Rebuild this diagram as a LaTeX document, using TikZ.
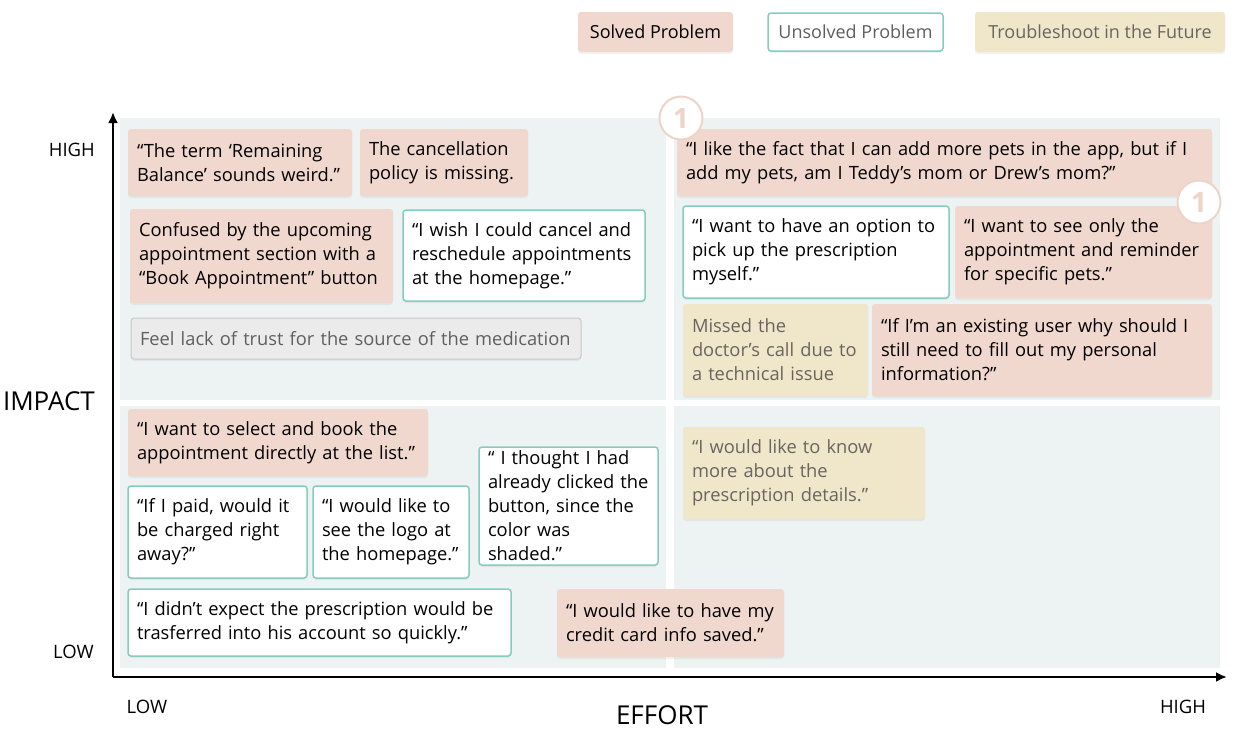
\documentclass[tikz,border=0pt]{standalone}
\usepackage{fontspec}
\setmainfont{Open Sans}
\usetikzlibrary{arrows.meta,shadows}
\definecolor{solvedc}{RGB}{240,216,206}
\definecolor{futurec}{RGB}{240,230,202}
\definecolor{tealc}{RGB}{134,204,190}
\definecolor{quadc}{RGB}{237,243,242}
\definecolor{grayc}{RGB}{235,235,235}
\definecolor{grayborder}{RGB}{200,200,200}
\definecolor{graytext}{RGB}{95,95,95}
\definecolor{futuretext}{RGB}{105,100,95}
\definecolor{badgec}{RGB}{238,212,200}
\newcommand\qbox[7]{%
  \pgfmathsetmacro\qw{#5-#3}%
  \pgfmathsetmacro\qh{#6-#4}%
  \pgfmathsetmacro\qtw{#5-#3-18}%
  \pgfmathsetmacro\qcx{(#3+#5)/2}%
  \pgfmathsetmacro\qcy{(#4+#6)/2+1}%
  \node[#1, minimum width=\qw pt, minimum height=\qh pt, text width=\qtw pt] (#2) at (\qcx,\qcy) {#7};}
\newcommand\lbox[7]{%
  \pgfmathsetmacro\qw{#5-#3}%
  \pgfmathsetmacro\qh{#6-#4}%
  \pgfmathsetmacro\qcx{(#3+#5)/2}%
  \pgfmathsetmacro\qcy{(#4+#6)/2}%
  \node[#1, minimum width=\qw pt, minimum height=\qh pt, inner xsep=0pt] (#2) at (\qcx,\qcy) {#7};}
\begin{document}
\begin{tikzpicture}[x=1pt,y=-1pt,
  font=\fontsize{18.3}{24}\selectfont,
  card/.style={rectangle, rounded corners=3pt, inner xsep=9pt, inner ysep=0pt, align=left,
    drop shadow={shadow xshift=0pt,shadow yshift=-2pt,opacity=0.10}},
  solvedbox/.style={card, fill=solvedc},
  unsolvedbox/.style={card, fill=white, draw=tealc, line width=1.5pt},
  futurebox/.style={card, fill=futurec, text=futuretext},
  graybox/.style={card, fill=grayc, draw=grayborder, line width=1pt, text=graytext},
  legendbox/.style={card, align=center, font=\fontsize{18}{22}\selectfont},
  quad/.style={fill=quadc},
  axis/.style={line width=2.4pt, -{Latex[length=11pt,width=10pt]}},
  axlabel/.style={font=\fontsize{18.5}{22}\selectfont, inner sep=0pt},
  axtitle/.style={font=\fontsize{26}{30}\selectfont, inner sep=0pt},
  badge/.style={circle, draw=badgec, line width=2pt, fill=white, minimum size=43pt, inner sep=0pt,
    text=badgec, font=\fontsize{28}{28}\selectfont\bfseries}
]
\useasboundingbox (0,0) rectangle (1242,732);
% legend
\lbox{legendbox, fill=solvedc}{legS}{578}{12}{733}{52}{Solved Problem}
\lbox{legendbox, fill=white, draw=tealc, line width=1.5pt, text=graytext}{legU}{768}{13}{943}{51}{Unsolved Problem}
\lbox{legendbox, fill=futurec, text=futuretext}{legT}{975}{12}{1225}{52}{Troubleshoot in the Future}
% quadrants
\fill[quad] (120,118) rectangle (666,400);
\fill[quad] (674,118) rectangle (1220,400);
\fill[quad] (120,406) rectangle (666,668);
\fill[quad] (674,406) rectangle (1220,668);
% axes
\coordinate (O) at (113,677);
\coordinate (ytop) at (113,112);
\coordinate (xend) at (1227,677);
\draw[axis] (O) -- (ytop);
\draw[axis] (O) -- (xend);
\node[axlabel, anchor=east] (yhigh) at (95,150) {HIGH};
\node[axlabel, anchor=east] (ylow) at (94,652) {LOW};
\node[axtitle, anchor=east] (impact) at (95,401) {IMPACT};
\node[axlabel] (xlow) at (147,707) {LOW};
\node[axlabel] (xhigh) at (1183,707) {HIGH};
\node[axtitle] (effort) at (662,715) {EFFORT};
% top-left
\qbox{solvedbox}{b1}{128}{128}{352}{195}{“The term ‘Remaining\\Balance’ sounds weird.”}
\qbox{solvedbox}{b2}{360}{128}{528}{195}{The cancellation\\policy is missing.}
\qbox{solvedbox}{b3}{130}{208}{393}{302}{Confused by the upcoming\\appointment section with a\\“Book Appointment” button}
\qbox{unsolvedbox}{b4}{403}{209}{645}{300}{“I wish I could cancel and\\reschedule appointments\\at the homepage.”}
\qbox{graybox}{b5}{131}{317}{581}{358}{Feel lack of trust for the source of the medication}
% top-right
\qbox{solvedbox}{b6}{677}{128}{1212}{195}{“I like the fact that I can add more pets in the app, but if I\\add my pets, am I Teddy’s mom or Drew’s mom?”}
\qbox{unsolvedbox}{b7}{683}{205}{949}{297}{“I want to have an option to\\pick up the prescription\\myself.”}
\qbox{solvedbox}{b8}{955}{205}{1212}{297}{“I want to see only the\\appointment and reminder\\for specific pets.”}
\qbox{futurebox}{b9}{683}{303}{868}{395}{Missed the\\doctor’s call due to\\a technical issue}
\qbox{solvedbox}{b10}{872}{303}{1212}{395}{“If I’m an existing user why should I\\still need to fill out my personal\\information?”}
% bottom-right
\qbox{futurebox}{b11}{683}{426}{925}{518}{“I would like to know\\more about the\\prescription details.”}
% bottom-left
\qbox{solvedbox}{b12}{128}{408}{428}{475}{“I want to select and book the\\appointment directly at the list.”}
\qbox{unsolvedbox}{b13}{128}{485}{307}{577}{“If I paid, would it\\be charged right\\away?”}
\qbox{unsolvedbox}{b14}{313}{485}{469}{577}{“I would like to\\see the logo at\\the homepage.”}
\qbox{unsolvedbox}{b15}{479}{446}{658}{564}{“ I thought I had\\already clicked the\\button, since the\\color was\\shaded.”}
\qbox{unsolvedbox}{b16}{128}{588}{511}{655}{“I didn’t expect the prescription would be\\trasferred into his account so quickly.”}
\qbox{solvedbox}{b17}{557}{588}{784}{656}{“I would like to have my\\credit card info saved.”}
% badges
\node[badge] (badge1) at (681,118) {1};
\node[badge] (badge2) at (1199,202) {1};
\end{tikzpicture}
\end{document}
